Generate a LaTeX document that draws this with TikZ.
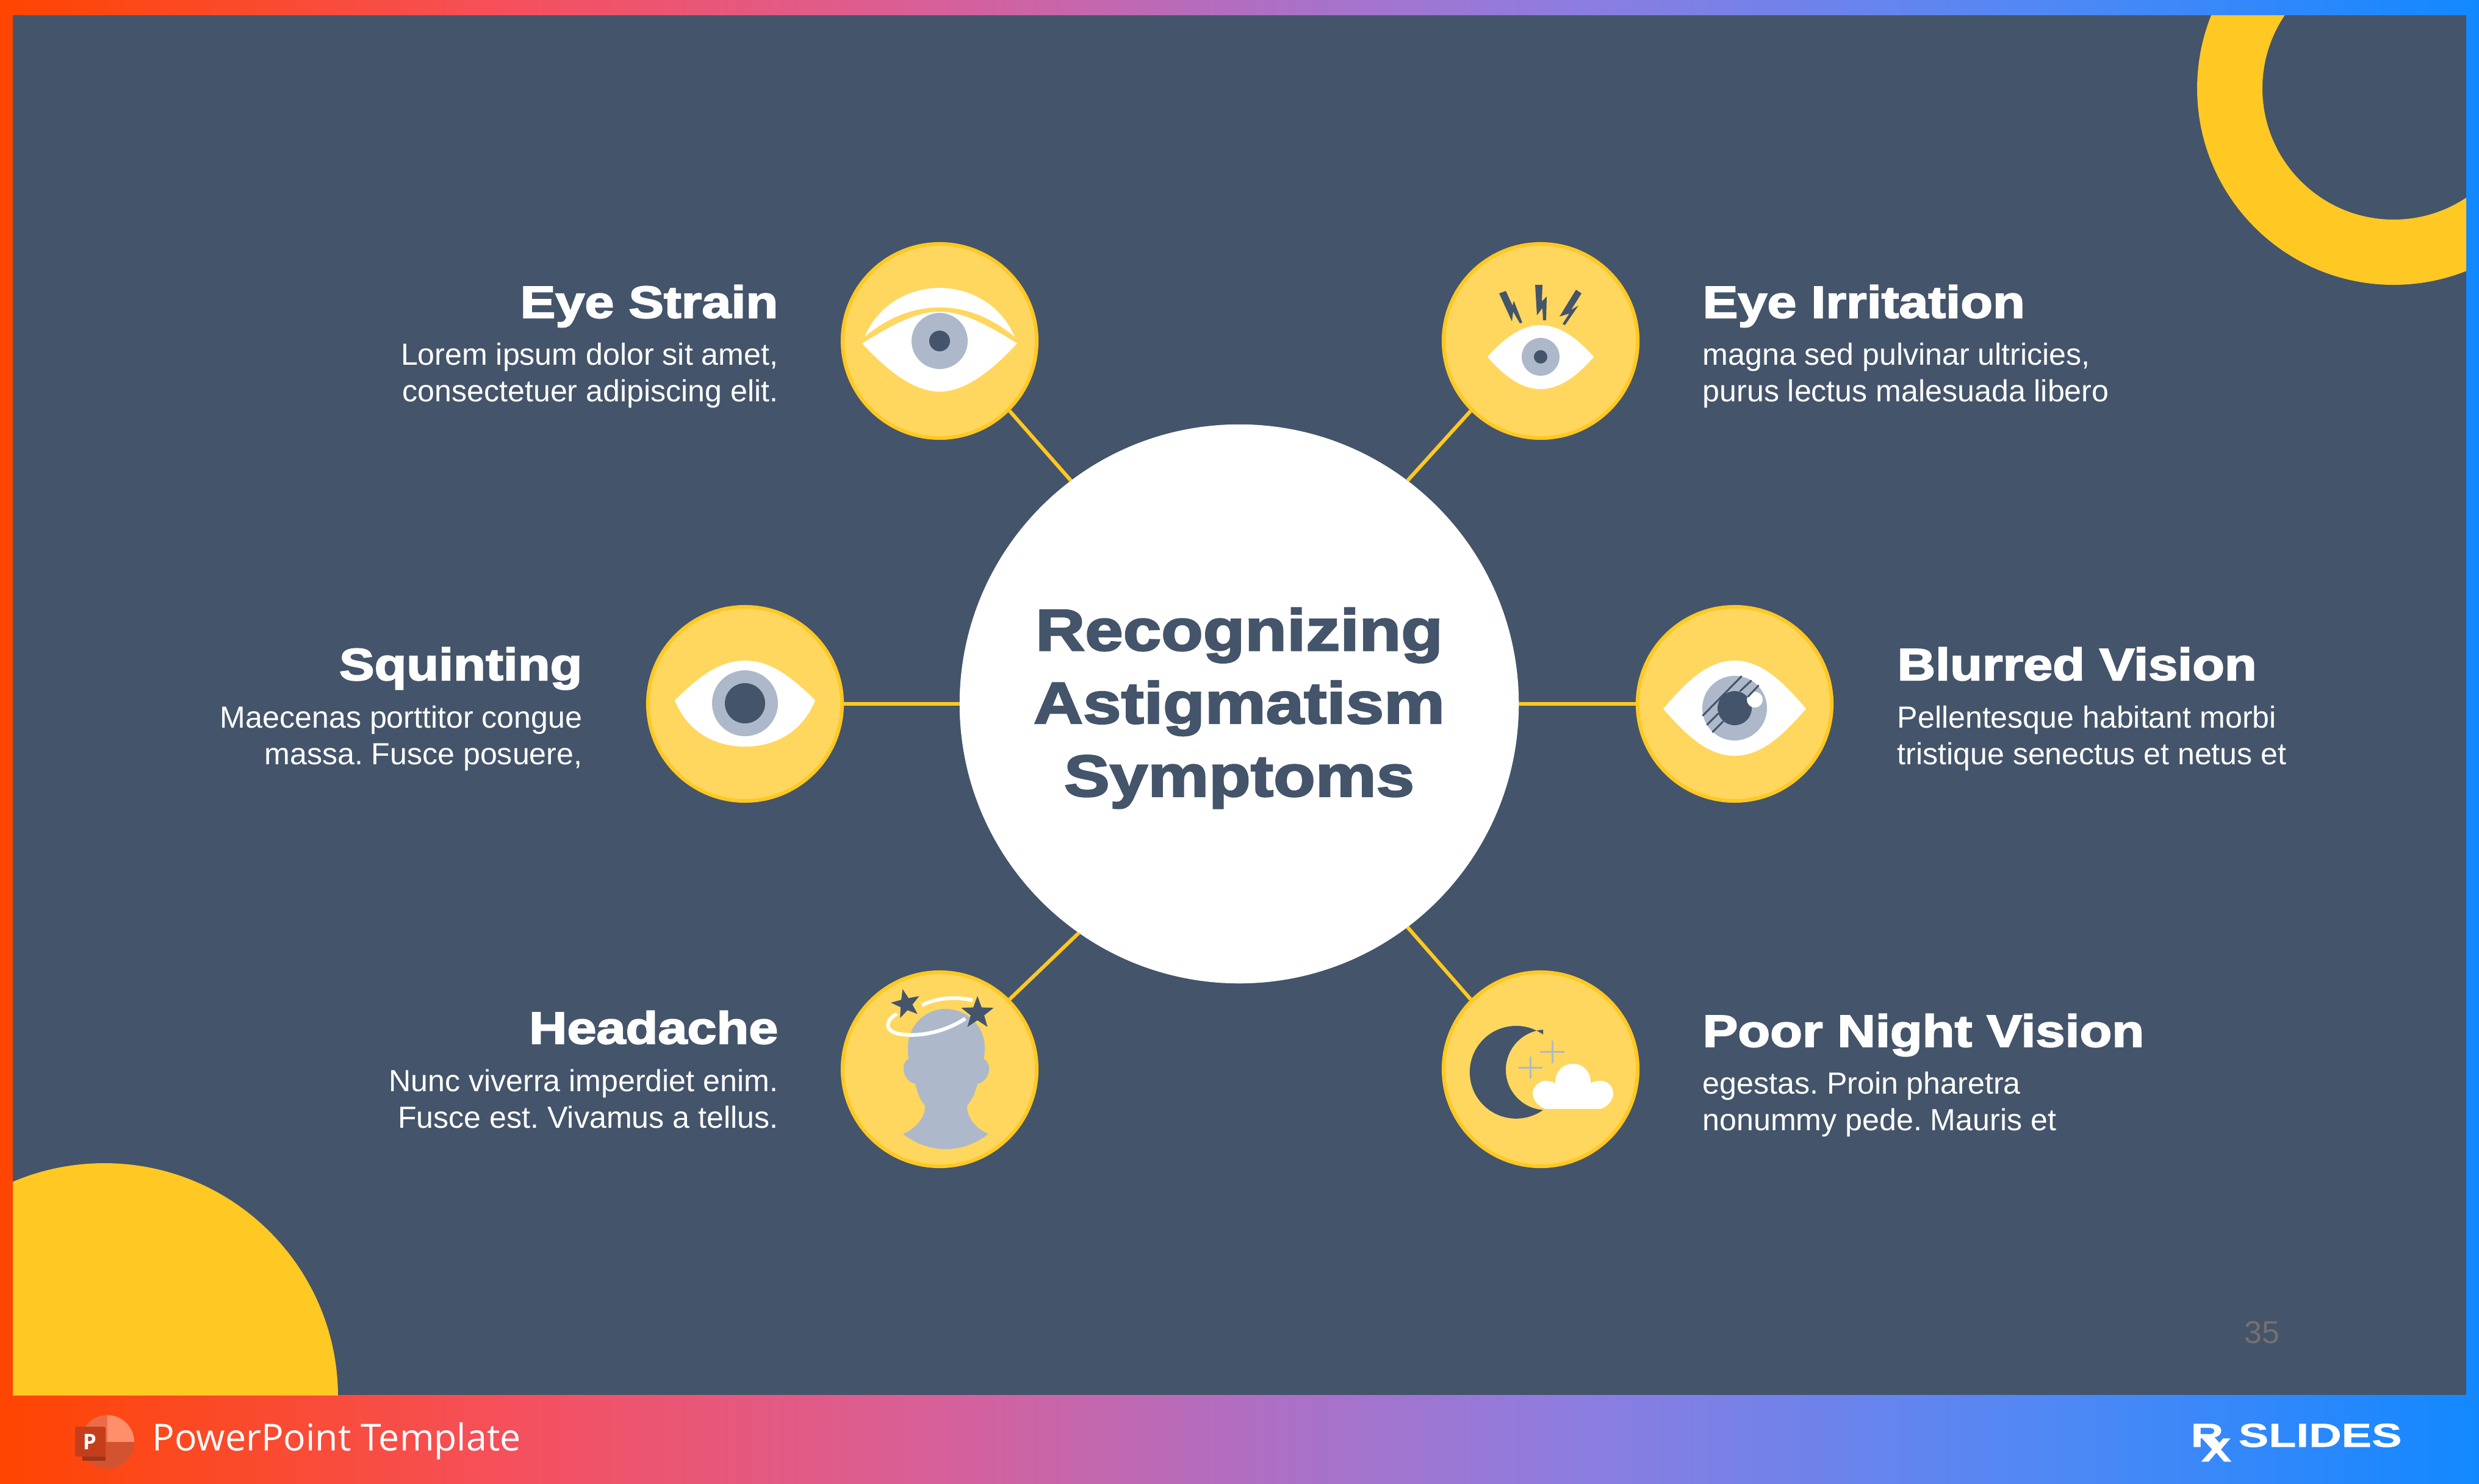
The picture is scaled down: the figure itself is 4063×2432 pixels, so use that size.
\documentclass[tikz,border=0pt]{standalone}
\usepackage{fontspec}
\usetikzlibrary{shapes.geometric}
\setmainfont{Liberation Sans}
\newfontfamily\headfont[FakeBold=2.8,FakeStretch=1.17]{Liberation Sans Bold}
\newfontfamily\footfont{Open Sans}
\newfontfamily\brandfont[FakeBold=1,FakeStretch=1.36]{Liberation Sans Bold}
\definecolor{slate}{HTML}{44546A}
\definecolor{amber}{HTML}{FFC822}
\definecolor{honey}{HTML}{FFD75F}
\definecolor{iris}{HTML}{ADB9CA}
\definecolor{pageno}{HTML}{757070}
\definecolor{barA}{HTML}{FF4500}
\definecolor{barB}{HTML}{F5505E}
\definecolor{barC}{HTML}{D7609A}
\definecolor{barD}{HTML}{AE6FC4}
\definecolor{barE}{HTML}{8C7DE0}
\definecolor{barF}{HTML}{4F88F5}
\definecolor{barG}{HTML}{1288FF}
\definecolor{logoA}{HTML}{D35230}
\definecolor{logoB}{HTML}{ED6C47}
\definecolor{logoC}{HTML}{FF8F6B}
\definecolor{logoD}{HTML}{9E3418}
\definecolor{logoE}{HTML}{C43E1C}
\pgfdeclarehorizontalshading{framegrad}{100bp}{color(0bp)=(barA); color(25bp)=(barA); color(35.5bp)=(barB); color(44bp)=(barC); color(50.5bp)=(barD); color(57bp)=(barE); color(66.5bp)=(barF); color(75bp)=(barG); color(100bp)=(barG)}
\tikzset{
    hub/.style={circle,fill=white,inner sep=0pt,outer sep=0pt,minimum size=9.16cm},
    titletext/.style={text=slate,inner sep=0pt,align=center,font=\headfont\fontsize{27.3}{34}\selectfont},
    badge/.style={circle,draw=amber,fill=honey,line width=0.06cm,inner sep=0pt,minimum size=3.18cm},
    spoke/.style={draw=amber,line width=0.06cm},
    headright/.style={anchor=base east,inner sep=0pt,text=white,font=\headfont\fontsize{21}{25}\selectfont},
    headleft/.style={anchor=base west,inner sep=0pt,text=white,font=\headfont\fontsize{21}{25}\selectfont},
    bodyright/.style={anchor=base east,inner sep=0pt,text=white,align=right,font=\fontsize{14.25}{16.8}\selectfont},
    bodyleft/.style={anchor=base west,inner sep=0pt,text=white,align=left,font=\fontsize{14.25}{16.8}\selectfont},
    starmark/.style={star,star points=5,star point ratio=2.4,fill=slate,inner sep=0pt}
}
\frenchspacing
\begin{document}
\begin{tikzpicture}[x=0.01cm,y=-0.01cm]
    \useasboundingbox (0,0) rectangle (4063,2432);
    \shade[shading=framegrad] (0,0) rectangle (4063,2432);
    \fill[slate] (21,25) rectangle (4042,2287);
    \begin{scope}
        \clip (21,25) rectangle (4042,2287);
        \fill[amber,even odd rule] (3923,145) circle[radius=322] (3923,145) circle[radius=215];
        \fill[amber] (171,2290) circle[radius=383];
    \end{scope}

    \node[hub] (hub) at (2031,1154) {};
    \node[titletext] (title) at (2031,1161) {Recognizing\\Astigmatism\\Symptoms};
    \node[badge] (strain) at (1540,559) {};
    \node[badge] (irritation) at (2525,559) {};
    \node[badge] (squint) at (1221,1154) {};
    \node[badge] (blurred) at (2843,1154) {};
    \node[badge] (headache) at (1540,1753) {};
    \node[badge] (night) at (2525,1753) {};

    \draw[spoke] (strain.-45) -- (hub.127);
    \draw[spoke] (irritation.225) -- (hub.53.5);
    \draw[spoke] (squint.0) -- (hub.180);
    \draw[spoke] (blurred.180) -- (hub.0);
    \draw[spoke] (headache.45) -- (hub.235);
    \draw[spoke] (night.135) -- (hub.-53);

    \node[headright] (strainhead) at (1276,521) {Eye Strain};
    \node[bodyright] (strainbody) at (1276,658) {Lorem ipsum dolor sit amet,\\consectetuer adipiscing elit.};
    \node[headright] (squinthead) at (955,1115) {Squinting};
    \node[bodyright] (squintbody) at (955,1253) {Maecenas porttitor congue\\massa. Fusce posuere,};
    \node[headright] (headachehead) at (1276,1711) {Headache};
    \node[bodyright] (headachebody) at (1276,1849) {Nunc viverra imperdiet enim.\\Fusce est. Vivamus a tellus.};
    \node[headleft] (irritationhead) at (2790,521) {Eye Irritation};
    \node[bodyleft] (irritationbody) at (2790,658) {magna sed pulvinar ultricies,\\purus lectus malesuada libero};
    \node[headleft] (blurredhead) at (3109,1115) {Blurred Vision};
    \node[bodyleft] (blurredbody) at (3109,1253) {Pellentesque habitant morbi\\tristique senectus et netus et};
    \node[headleft] (nighthead) at (2790,1716) {Poor Night Vision};
    \node[bodyleft] (nightbody) at (2790,1853) {egestas. Proin pharetra\\nonummy pede. Mauris et};

    \begin{scope}[shift={(1540,559)}]
        \fill[white] (-123,-7) .. controls (-100,-60) and (-50,-87) .. (0,-87) .. controls (50,-87) and (100,-60) .. (123,-7) .. controls (85,-38) and (45,-55) .. (0,-55) .. controls (-45,-55) and (-85,-38) .. cycle;
        \fill[white] (-127,4) .. controls (-75,60) and (-35,83) .. (0,83) .. controls (35,83) and (75,60) .. (127,4) .. controls (80,-25) and (40,-48) .. (0,-48) .. controls (-40,-48) and (-80,-25) .. cycle;
        \fill[iris] (0,0) circle[radius=46];
        \fill[slate] (0,0) circle[radius=17];
    \end{scope}

    \begin{scope}[shift={(2525,559)}]
        \fill[white] (-87,26) .. controls (-60,-5) and (-30,-26) .. (0,-26) .. controls (30,-26) and (60,-5) .. (87,26) .. controls (60,58) and (30,79) .. (0,79) .. controls (-30,79) and (-60,58) .. cycle;
        \fill[iris] (0,26) circle[radius=31];
        \fill[slate] (0,26) circle[radius=11];
        \fill[slate] (-9,-92) -- (3,-92) -- (2,-65) -- (10,-73) -- (9,-34) -- (4,-34) -- (3,-54) -- (-6,-42) -- cycle;
        \fill[slate] (-68,-78) -- (-57,-82) -- (-46,-58) -- (-44,-66) -- (-30,-30) -- (-34,-29) -- (-45,-48) -- (-47,-32) -- cycle;
        \fill[slate] (58,-84) -- (67,-78) -- (50,-51) -- (62,-58) -- (40,-26) -- (36,-28) -- (47,-45) -- (31,-40) -- cycle;
    \end{scope}

    \begin{scope}[shift={(1221,1154)}]
        \fill[white] (-115,-6) .. controls (-80,-40) and (-45,-71) .. (0,-71) .. controls (45,-71) and (80,-40) .. (115,-6) .. controls (95,45) and (50,70) .. (0,70) .. controls (-50,70) and (-95,45) .. cycle;
        \fill[iris] (0,-1) circle[radius=54];
        \fill[slate] (0,-1) circle[radius=33];
    \end{scope}

    \begin{scope}[shift={(2843,1154)}]
        \fill[white] (-117,8) .. controls (-80,-35) and (-45,-71) .. (0,-71) .. controls (45,-71) and (80,-35) .. (117,8) .. controls (80,50) and (45,85) .. (0,85) .. controls (-45,85) and (-80,50) .. cycle;
        \fill[iris] (0,7) circle[radius=53];
        \fill[slate] (0,7) circle[radius=28];
        \fill[white] (33,-7) circle[radius=13];
        \draw[slate,line width=0.03cm,line cap=round] (11,-45) -- (-52,19);
        \draw[slate,line width=0.03cm,line cap=round] (27,-38) -- (9,-21);
        \draw[slate,line width=0.03cm,line cap=round] (39,-30) -- (22,-12);
        \draw[slate,line width=0.03cm,line cap=round] (-27,16) -- (-45,34);
        \draw[slate,line width=0.03cm,line cap=round] (-19,29) -- (-36,46);
    \end{scope}

    \begin{scope}[shift={(1540,1753)}]
        \fill[iris] (10,-99) .. controls (-25,-99) and (-52,-70) .. (-52,-36) .. controls (-52,-30) and (-52,-24) .. (-51,-17) .. controls (-57,-14) and (-59,-8) .. (-59,0) .. controls (-59,12) and (-50,22) .. (-40,24) .. controls (-36,40) and (-32,50) .. (-24,60) .. controls (-24,80) and (-40,98) .. (-60,106) .. controls (-40,122) and (-15,131) .. (10,131) .. controls (35,131) and (60,122) .. (80,106) .. controls (60,98) and (45,80) .. (45,60) .. controls (53,50) and (58,40) .. (62,24) .. controls (72,22) and (81,12) .. (81,0) .. controls (81,-8) and (79,-14) .. (72,-17) .. controls (74,-24) and (74,-30) .. (74,-36) .. controls (74,-70) and (45,-99) .. cycle;
        \draw[white,line width=0.06cm] (-29,-105) .. controls (-5,-117) and (25,-120) .. (54,-113);
        \draw[white,line width=0.06cm] (-70,-91) .. controls (-90,-80) and (-92,-60) .. (-60,-57) .. controls (-25,-53) and (15,-65) .. (42,-83);
        \node[starmark,minimum size=0.5cm,rotate=13] (starleft) at (-55,-107) {};
        \node[starmark,minimum size=0.56cm] (starright) at (62,-92) {};
    \end{scope}

    \begin{scope}[shift={(2525,1753)}]
        \fill[slate] (4,-57) arc[start angle=-54.5,end angle=-305.5,radius=76] arc[start angle=94.3,end angle=265.7,radius=66] -- cycle;
        \draw[iris,line width=0.03cm,line cap=round] (0,-29) -- (38,-29) (19,-46) -- (19,-11);
        \draw[iris,line width=0.03cm,line cap=round] (-36,-3) -- (2,-3) (-17,-20) -- (-17,14);
        \fill[white] (8,65) .. controls (-3,62) and (-13,50) .. (-13,40) .. controls (-13,26) and (0,19) .. (8,19) .. controls (14,19) and (19,20) .. (24,23) .. controls (23,5) and (36,-9) .. (53,-9) .. controls (70,-9) and (83,5) .. (82,23) .. controls (86,20) and (92,19) .. (98,19) .. controls (110,19) and (119,28) .. (119,40) .. controls (119,50) and (110,62) .. (98,65) -- cycle;
    \end{scope}

    \node[anchor=base,inner sep=0pt,text=pageno,font=\fontsize{14.8}{17}\selectfont] (pagenum) at (3707,2202) {35};

    \begin{scope}[shift={(176,2364)}]
        \fill[logoA] (-44,0) arc[start angle=180,end angle=0,radius=44] -- cycle;
        \fill[logoB] (0,0) -- (-44,0) arc[start angle=180,end angle=270,radius=44] -- cycle;
        \fill[logoC] (0,0) -- (0,-44) arc[start angle=-90,end angle=0,radius=44] -- cycle;
        \fill[logoD] (-41,24) rectangle (-3,31);
        \fill[logoE,rounded corners=0.03cm] (-53,-25) rectangle (-3,24);
        \node[inner sep=0pt,text=white,font=\footfont\bfseries\fontsize{10}{12}\selectfont] (logop) at (-29,0) {P};
    \end{scope}
    \node[anchor=base west,inner sep=0pt,text=white,font=\footfont\fontsize{17.3}{20}\selectfont] (footer) at (249,2378) {PowerPoint Template};

    \node[anchor=base west,inner sep=0pt,text=white,font=\brandfont\fontsize{15.5}{18}\selectfont] (brandr) at (3590,2372) {R};
    \node[anchor=base west,inner sep=0pt,text=white,font=\brandfont\fontsize{15.5}{18}\selectfont] (brandx) at (3607,2396) {X};
    \node[anchor=base west,inner sep=0pt,text=white,font=\brandfont\fontsize{15.5}{18}\selectfont] (brand) at (3668,2372) {SLIDES};
\end{tikzpicture}
\end{document}
